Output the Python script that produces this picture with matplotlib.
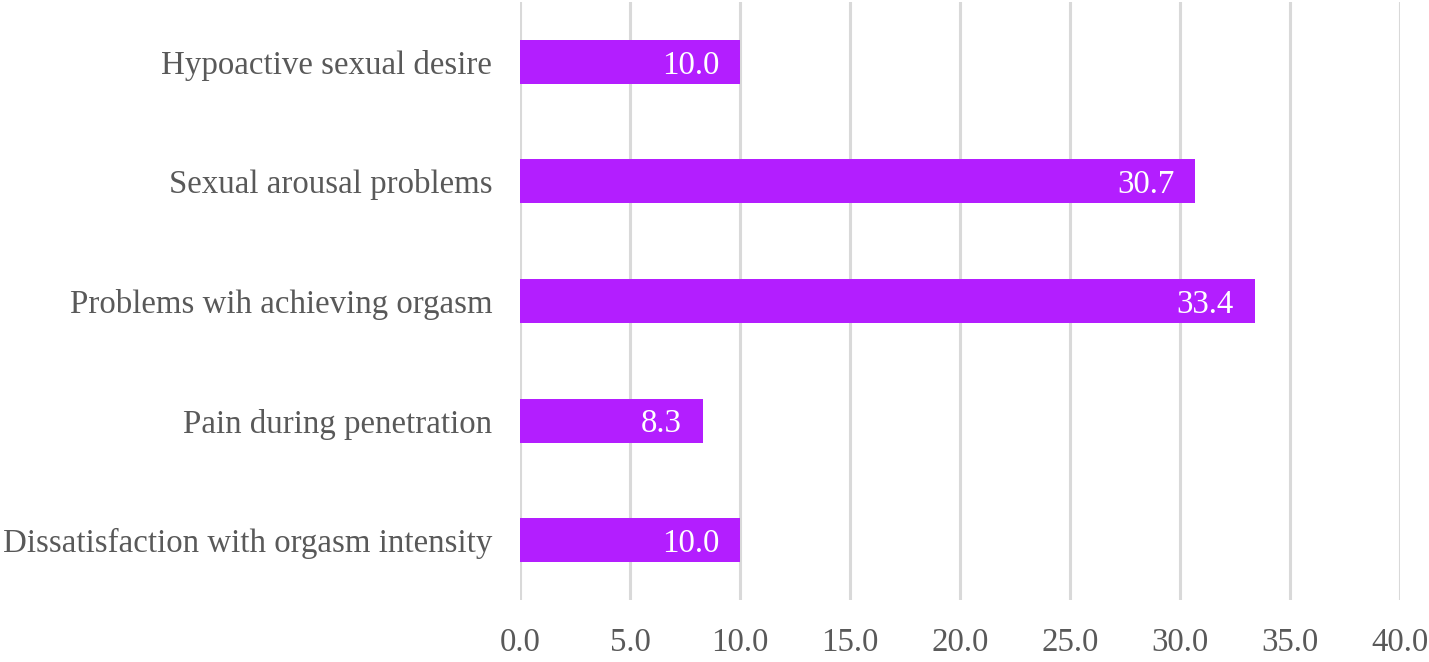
import matplotlib
matplotlib.use("Agg")
import matplotlib.pyplot as plt

categories = ["Hypoactive sexual desire", "Sexual arousal problems",
              "Problems wih achieving orgasm", "Pain during penetration",
              "Dissatisfaction with orgasm intensity"]
values = [10.0, 30.7, 33.4, 8.3, 10.0]
xticks = [0, 5, 10, 15, 20, 25, 30, 35, 40]

plt.rcParams['font.family'] = ['Liberation Serif', 'DejaVu Serif']
fig = plt.figure(figsize=(14.29, 6.62), dpi=100)
ax = fig.add_axes([520/1429, 1 - 600/662, 880/1429, 598/662])

ypos = list(range(len(categories)))
ax.barh(ypos, values, height=0.367, color="#B31EFF", zorder=3)
ax.set_ylim(len(categories) - 0.5, -0.5)
ax.set_xlim(0, 40)
ax.set_xticks(xticks)
ax.set_xticklabels([f"{t:.1f}" for t in xticks])
ax.set_yticks(ypos)
ax.set_yticklabels(categories)
ax.tick_params(axis='both', length=0, labelsize=23.7, colors="#595959")
ax.tick_params(axis='x', pad=20)
ax.tick_params(axis='y', pad=20)
ax.grid(axis='x', color="#D9D9D9", linewidth=2.2, zorder=0)
for s in ax.spines.values():
    s.set_visible(False)

for y, v in zip(ypos, values):
    ax.annotate(f"{v:.1f}", xy=(v, y), xytext=(-15, 0), textcoords="offset points",
                ha="right", va="center_baseline", color="white", fontsize=23.7, zorder=4)

fig.savefig("out.png", dpi=100)
